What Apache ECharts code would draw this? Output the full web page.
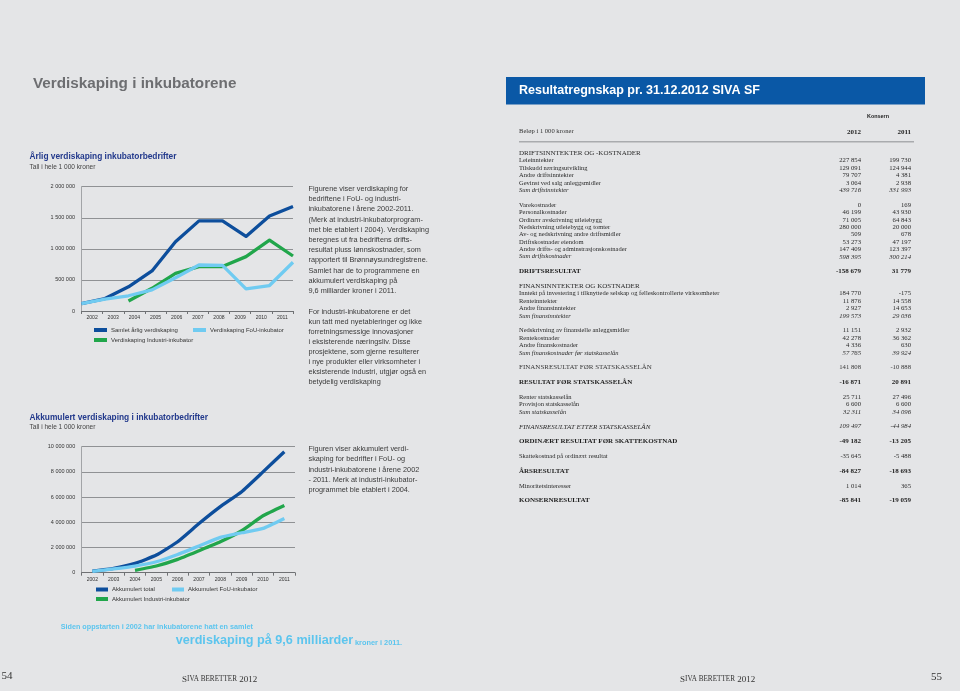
<!DOCTYPE html>
<html><head><meta charset="utf-8">
<script src="https://cdn.jsdelivr.net/npm/echarts@6/dist/echarts.min.js"></script>
<style>html,body{margin:0;padding:0;background:#e4e5e7}#c{width:960px;height:691px}</style>
</head><body><div id="c"></div>
<script>
// ---------- data ----------
const years = ['2002','2003','2004','2005','2006','2007','2008','2009','2010','2011'];
const annualTotal    = [120000, 200000, 390000, 645000, 1115000, 1450000, 1450000, 1200000, 1530000, 1680000];
const annualFoU      = [120000, 190000, 245000, 340000, 535000, 740000, 735000, 355000, 410000, 785000];
const annualIndustri = [null, null, 160000, 365000, 605000, 715000, 715000, 875000, 1140000, 885000];
const accTotal    = [120000, 340000, 740000, 1400000, 2460000, 3900000, 5240000, 6430000, 8000000, 9600000];
const accFoU      = [110000, 300000, 530000, 870000, 1450000, 2120000, 2800000, 3170000, 3520000, 4310000];
const accIndustri = [null, null, 190000, 530000, 1060000, 1750000, 2460000, 3330000, 4520000, 5340000];
const annualNames = ['Samlet årlig verdiskaping', 'Verdiskaping FoU-inkubator', 'Verdiskaping Industri-inkubator'];
const accNames    = ['Akkumulert total', 'Akkumulert FoU-inkubator', 'Akkumulert Industri-inkubator'];

const para1 = ['Figurene viser verdiskaping for','bedriftene i FoU- og industri-','inkubatorene i årene 2002-2011.','(Merk at industri-inkubatorprogram-','met ble etablert i 2004). Verdiskaping','beregnes ut fra bedriftens drifts-','resultat pluss lønnskostnader, som','rapportert til Brønnøysundregistrene.','Samlet har de to programmene en','akkumulert verdiskaping på','9,6 milliarder kroner i 2011.'];
const para2 = ['For industri-inkubatorene er det','kun tatt med nyetableringer og ikke','forretningsmessige innovasjoner','i eksisterende næringsliv. Disse','prosjektene, som gjerne resulterer','i nye produkter eller virksomheter i','eksisterende industri, utgjør også en','betydelig verdiskaping'];
const para3 = ['Figuren viser akkumulert verdi-','skaping for bedrifter i FoU- og','industri-inkubatorene i årene 2002','- 2011. Merk at industri-inkubator-','programmet ble etablert i 2004.'];

const rowLabels = ['DRIFTSINNTEKTER OG -KOSTNADER','Leieinntekter','Tilskudd næringsutvikling','Andre driftsinntekter','Gevinst ved salg anleggsmidler','Sum driftsinntekter','',
'Varekostnader','Personalkostnader','Ordinær avskrivning utleiebygg','Nedskrivning utleiebygg og tomter','Av- og nedskrivning andre driftsmidler','Driftskostnader eiendom','Andre drifts- og adminstrasjonskostnader','Sum driftskostnader','',
'DRIFTSRESULTAT','',
'FINANSINNTEKTER OG KOSTNADER','Inntekt på investering i tilknyttede selskap og felleskontrollerte virksomheter','Renteinntekter','Andre finansinntekter','Sum finansinntekter','',
'Nedskrivning av finansielle anleggsmidler','Rentekostnader','Andre finanskostnader','Sum finanskostnader før statskasselån','',
'FINANSRESULTAT FØR STATSKASSELÅN','',
'RESULTAT FØR STATSKASSELÅN','',
'Renter statskasselån','Provisjon statskasselån','Sum statskasselån','',
'FINANSRESULTAT ETTER STATSKASSELÅN','',
'ORDINÆRT RESULTAT FØR SKATTEKOSTNAD','',
'Skattekostnad på ordinært resultat','',
'ÅRSRESULTAT','',
'Minoritetsinteresser','',
'KONSERNRESULTAT'];
const values2012 = [null,227854,129091,79707,3064,439716,null,
0,46199,71005,280000,509,53273,147409,598395,null,
-158679,null,
null,184770,11876,2927,199573,null,
11151,42278,4336,57765,null,
141808,null,
-16871,null,
25711,6600,32311,null,
109497,null,
-49182,null,
-35645,null,
-84827,null,
1014,null,
-85841];
const values2011 = [null,199730,124944,4381,2938,331993,null,
169,43930,64843,20000,678,47197,123397,300214,null,
31779,null,
null,-175,14558,14653,29036,null,
2932,36362,630,39924,null,
-10888,null,
20891,null,
27496,6600,34096,null,
-44984,null,
-13205,null,
-5488,null,
-18693,null,
365,null,
-19059];
const rowKinds = ['head','item','item','item','item','sum','blank',
'item','item','item','item','item','item','item','sum','blank',
'bold','blank',
'head','item','item','item','sum','blank',
'item','item','item','sum','blank',
'caps','blank',
'bold','blank',
'item','item','sum','blank',
'icaps','blank',
'bold','blank',
'item','blank',
'bold','blank',
'item','blank',
'bold'];

// ---------- fonts ----------
function hasFont(name){
  const c = document.createElement('canvas').getContext('2d');
  const s = 'abcdefghijklmnopqrstuvwxyzWMi0123';
  c.font = '40px monospace'; const a = c.measureText(s).width;
  c.font = '40px "' + name + '", monospace'; const b = c.measureText(s).width;
  return Math.abs(a - b) > 0.5;
}
const HAS_NARROW = hasFont('Liberation Sans Narrow');
const FN = HAS_NARROW ? '"Liberation Sans Narrow", "Liberation Sans", sans-serif' : '"Liberation Sans", Arial, sans-serif';
const KN = HAS_NARROW ? 1 : 0.82;
const ns = s => +(s * KN).toFixed(2);
const FS = '"Liberation Sans", Arial, sans-serif';
const FSERIF = '"Liberation Serif", "Times New Roman", serif';

const C_DARK = '#0d4e9c', C_LIGHT = '#70cbf1', C_GREEN = '#21a64b';

const thou = v => (v < 0 ? '-' : '') + String(Math.abs(v)).replace(/\B(?=(\d{3})+(?!\d))/g, ' ');

// ---------- graphic helpers ----------
function T(x, y, text, o) {
  o = o || {};
  const st = {
    text: text, fill: o.fill || '#333',
    fontSize: o.size || 8, fontFamily: o.family || FS,
    fontWeight: o.weight || 'normal', fontStyle: o.style || 'normal',
    align: o.align || 'left', textAlign: o.align || 'left',
    verticalAlign: 'middle', textVerticalAlign: 'middle'
  };
  if (o.rich) st.rich = o.rich;
  return { type: 'text', x: x, y: y, silent: true, style: st };
}
const G = [];
// page title
G.push(T(33, 83.5, 'Verdiskaping i inkubatorene', {size: ns(18.6), family: FN, weight: 'bold', fill: '#6d6e71'}));
// chart titles
G.push(T(29.5, 157, 'Årlig verdiskaping inkubatorbedrifter', {size: ns(10.2), family: FN, weight: 'bold', fill: '#22398c'}));
G.push(T(29.5, 167, 'Tall i hele 1 000 kroner', {size: ns(8), family: FN, fill: '#444'}));
G.push(T(29.5, 417.5, 'Akkumulert verdiskaping i inkubatorbedrifter', {size: ns(10.2), family: FN, weight: 'bold', fill: '#22398c'}));
G.push(T(29.5, 427, 'Tall i hele 1 000 kroner', {size: ns(8), family: FN, fill: '#444'}));
// body text
para1.forEach((s, i) => G.push(T(308.5, 189 + i * 10.2, s, {size: 7.3, fill: '#3a3a3a'})));
para2.forEach((s, i) => G.push(T(308.5, 311.7 + i * 10.1, s, {size: 7.3, fill: '#3a3a3a'})));
para3.forEach((s, i) => G.push(T(308.5, 449 + i * 10.25, s, {size: 7.3, fill: '#3a3a3a'})));
// callout
G.push(T(60.7, 626.7, 'Siden oppstarten i 2002 har inkubatorene hatt en samlet', {size: ns(8.8), family: FN, weight: 'bold', fill: '#5cc5ee'}));
G.push(T(175.7, 640.6, 'verdiskaping på 9,6 milliarder', {size: ns(15.4), family: FN, weight: 'bold', fill: '#5cc5ee'}));
G.push(T(355, 643.2, 'kroner i 2011.', {size: ns(9), family: FN, weight: 'bold', fill: '#5cc5ee'}));
// footers
const footRich = {a: {fontSize: 9, fontFamily: FSERIF, fill: '#333'}, b: {fontSize: 7.2, fontFamily: FSERIF, fill: '#333'}};
G.push(T(1.5, 676, '54', {size: 11, family: FSERIF, fill: '#333'}));
G.push(T(942, 677, '55', {size: 11, family: FSERIF, fill: '#333', align: 'right'}));
G.push(T(182, 679.5, '{a|S}{b|IVA BERETTER}{a| 2012}', {rich: footRich}));
G.push(T(680, 679.5, '{a|S}{b|IVA BERETTER}{a| 2012}', {rich: footRich}));
// banner
G.push({type: 'rect', silent: true, shape: {x: 506, y: 77, width: 419, height: 27.5}, style: {fill: '#0a58a6'}});
G.push(T(519, 90.8, 'Resultatregnskap pr. 31.12.2012 SIVA SF', {size: 12.5, weight: 'bold', fill: '#ffffff'}));
// table header
G.push(T(878, 116.7, 'Konsern', {size: ns(6.6), family: FN, weight: 'bold', fill: '#222', align: 'center'}));
G.push(T(519, 131.7, 'Beløp i 1 000 kroner', {size: 6.6, family: FSERIF, fill: '#333'}));
G.push(T(861, 131.7, '2012', {size: 7, family: FSERIF, weight: 'bold', fill: '#222', align: 'right'}));
G.push(T(911, 131.7, '2011', {size: 7, family: FSERIF, weight: 'bold', fill: '#222', align: 'right'}));
G.push({type: 'line', silent: true, shape: {x1: 519, y1: 141.7, x2: 914, y2: 141.7}, style: {stroke: '#a9abae', lineWidth: 1.6}});
// table rows
const kindStyle = {
  head:  {size: 7.0, weight: 'normal', style: 'normal', fill: '#2a2a2a'},
  item:  {size: 6.5, weight: 'normal', style: 'normal', fill: '#2a2a2a'},
  sum:   {size: 6.5, weight: 'normal', style: 'italic', fill: '#2a2a2a'},
  bold:  {size: 7.0, weight: 'bold',   style: 'normal', fill: '#1e1e1e'},
  caps:  {size: 7.0, weight: 'normal', style: 'normal', fill: '#3a3a3a'},
  icaps: {size: 7.0, weight: 'normal', style: 'italic', fill: '#2a2a2a'}
};
rowLabels.forEach((lab, i) => {
  const k = rowKinds[i];
  if (k === 'blank') return;
  const ks = kindStyle[k];
  const y = 153.3 + i * 7.39;
  G.push(T(519, y, lab, {size: ks.size, weight: ks.weight, style: ks.style, fill: ks.fill, family: FSERIF}));
  const numSize = k === 'bold' ? 7 : 6.7;
  if (values2012[i] !== null) G.push(T(861, y, thou(values2012[i]), {size: numSize, weight: ks.weight, style: ks.style, fill: ks.fill, family: FSERIF, align: 'right'}));
  if (values2011[i] !== null) G.push(T(911, y, thou(values2011[i]), {size: numSize, weight: ks.weight, style: ks.style, fill: ks.fill, family: FSERIF, align: 'right'}));
});

// ---------- axes ----------
const axisLabelX = {interval: 0, margin: 4, fontSize: ns(6.2), fontFamily: FN, color: '#333'};
const axisLabelY = {margin: 6.5, fontSize: ns(6.7), fontFamily: FN, color: '#333', formatter: v => thou(v)};
function catAxis(gi) {
  return {type: 'category', gridIndex: gi, data: years, boundaryGap: true,
    axisLine: {show: true, lineStyle: {color: '#6f7174', width: 1}},
    axisTick: {show: true, interval: 0, length: 3, lineStyle: {color: '#6f7174', width: 1}},
    axisLabel: axisLabelX, splitLine: {show: false}};
}
function valAxis(gi, max, interval) {
  return {type: 'value', gridIndex: gi, min: 0, max: max, interval: interval,
    axisLine: {show: true, lineStyle: {color: '#a2a4a7', width: 1}},
    axisTick: {show: false}, axisLabel: axisLabelY,
    splitLine: {show: true, lineStyle: {color: '#8f9194', width: 1}}};
}
function lineSeries(name, data, color, xi, yi, smooth) {
  return {type: 'line', name: name, data: data, xAxisIndex: xi, yAxisIndex: yi,
    symbol: 'none', smooth: smooth, lineStyle: {color: color, width: 3.3, cap: 'butt', join: 'round'},
    itemStyle: {color: color}, emphasis: {disabled: true}, silent: true};
}
function legendItem(name, left, top, w) {
  return {data: [name], left: left, top: top, orient: 'horizontal', padding: 0, itemGap: 0,
    icon: 'rect', itemWidth: w, itemHeight: 4, selectedMode: false,
    textStyle: {fontSize: ns(7.3), fontFamily: FN, color: '#333', padding: [0, 0, 0, -1]}};
}

const option = {
  backgroundColor: '#e4e5e7',
  animation: false,
  grid: [
    {left: 81.5, top: 186.7, width: 211.5, height: 124.3},
    {left: 81.7, top: 446.7, width: 213.3, height: 126}
  ],
  xAxis: [
    catAxis(0),
    {type: 'category', gridIndex: 0, data: years, boundaryGap: false, show: false},
    catAxis(1)
  ],
  yAxis: [valAxis(0, 2000000, 500000), valAxis(1, 10000000, 2000000)],
  legend: [
    legendItem(annualNames[0], 94, 327, 13),
    legendItem(annualNames[1], 193, 327, 13),
    legendItem(annualNames[2], 94, 337, 13),
    legendItem(accNames[0], 96, 586.5, 12),
    legendItem(accNames[1], 172, 586.5, 12),
    legendItem(accNames[2], 96, 596, 12)
  ],
  series: [
    lineSeries(annualNames[0], annualTotal, C_DARK, 1, 0, false),
    lineSeries(annualNames[2], annualIndustri, C_GREEN, 1, 0, false),
    lineSeries(annualNames[1], annualFoU, C_LIGHT, 1, 0, false),
    lineSeries(accNames[0], accTotal, C_DARK, 2, 1, 0.15),
    lineSeries(accNames[2], accIndustri, C_GREEN, 2, 1, 0.15),
    lineSeries(accNames[1], accFoU, C_LIGHT, 2, 1, 0.15)
  ],
  graphic: G
};
const chart = echarts.init(document.getElementById('c'), null, {renderer: 'canvas'});
chart.setOption(option);
</script>
</body></html>
